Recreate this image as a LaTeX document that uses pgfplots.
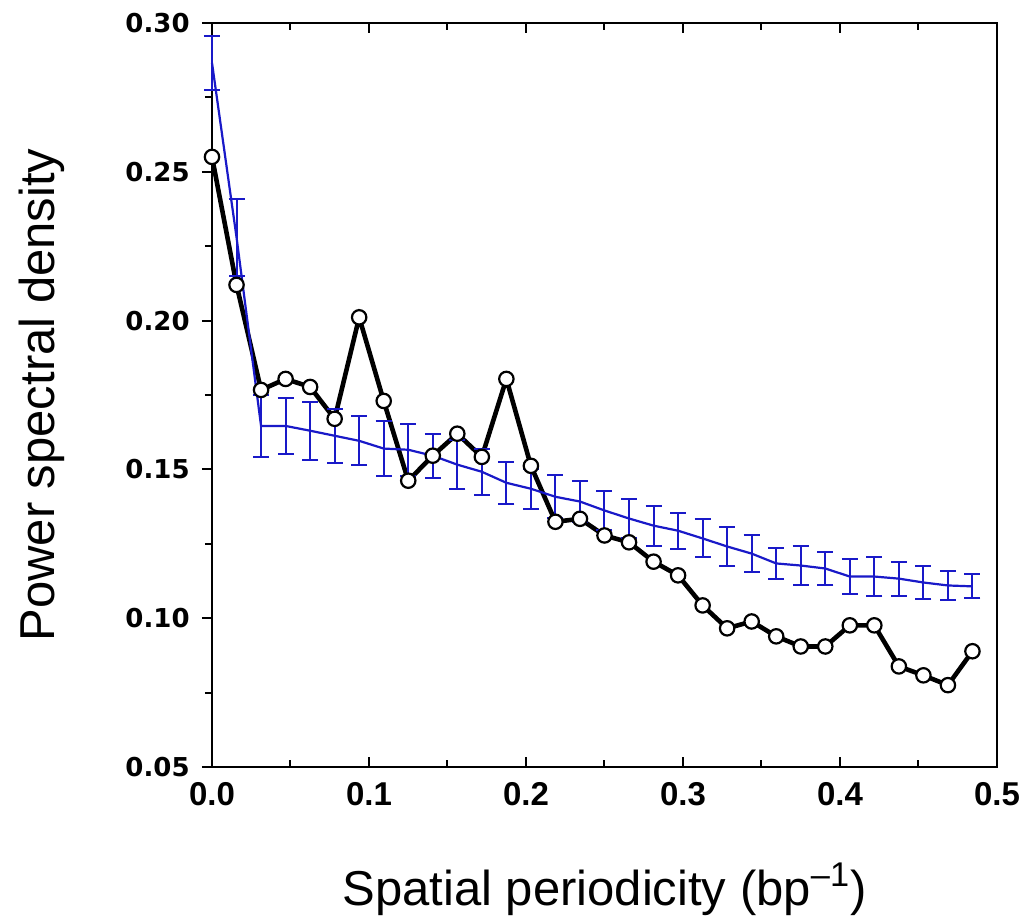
\documentclass[border=0pt]{standalone}
\usepackage{pgfplots}
\pgfplotsset{compat=1.18}
\usepackage{pgfplotstable}
\usepackage{fontspec}
\setmainfont{Liberation Sans}
\newfontfamily\yfont{DejaVu Sans}
\newfontfamily\xfont{Liberation Sans}
\definecolor{errblue}{RGB}{25,25,200}

\pgfplotstableread{
x y
0.000000 0.2550
0.015625 0.2120
0.031250 0.1767
0.046875 0.1804
0.062500 0.1777
0.078125 0.1670
0.093750 0.2011
0.109375 0.1730
0.125000 0.1462
0.140625 0.1546
0.156250 0.1620
0.171875 0.1542
0.187500 0.1804
0.203125 0.1512
0.218750 0.1324
0.234375 0.1334
0.250000 0.1278
0.265625 0.1255
0.281250 0.1190
0.296875 0.1144
0.312500 0.1043
0.328125 0.0966
0.343750 0.0989
0.359375 0.0939
0.375000 0.0905
0.390625 0.0905
0.406250 0.0976
0.421875 0.0976
0.437500 0.0838
0.453125 0.0808
0.468750 0.0775
0.484375 0.0889
}\blackdata

\pgfplotstableread{
x y err
0.000000 0.2866 0.0090
0.015625 0.2280 0.0130
0.031250 0.1646 0.0103
0.046875 0.1646 0.0094
0.062500 0.1630 0.0097
0.078125 0.1613 0.0090
0.093750 0.1596 0.0082
0.109375 0.1570 0.0093
0.125000 0.1566 0.0087
0.140625 0.1546 0.0074
0.156250 0.1516 0.0082
0.171875 0.1492 0.0077
0.187500 0.1455 0.0070
0.203125 0.1435 0.0067
0.218750 0.1408 0.0072
0.234375 0.1392 0.0069
0.250000 0.1362 0.0067
0.265625 0.1335 0.0065
0.281250 0.1311 0.0067
0.296875 0.1294 0.0061
0.312500 0.1268 0.0064
0.328125 0.1241 0.0064
0.343750 0.1217 0.0063
0.359375 0.1184 0.0052
0.375000 0.1177 0.0065
0.390625 0.1167 0.0054
0.406250 0.1140 0.0059
0.421875 0.1140 0.0064
0.437500 0.1133 0.0057
0.453125 0.1120 0.0055
0.468750 0.1110 0.0050
0.484375 0.1107 0.0040
}\bluedata

\begin{document}
\begin{tikzpicture}
\begin{axis}[
  name=ax,
  at={(0,0)}, anchor=south west,
  scale only axis,
  width=392.5pt, height=372pt,
  xmin=0, xmax=0.5, ymin=0.05, ymax=0.30,
  clip=false,
  axis line style={line width=1.2pt},
  xtick={0,0.1,0.2,0.3,0.4,0.5},
  xticklabels={0.0,0.1,0.2,0.3,0.4,0.5},
  minor x tick num=1,
  ytick={0.05,0.10,0.15,0.20,0.25,0.30},
  yticklabels={0.05,0.10,0.15,0.20,0.25,0.30},
  minor y tick num=1,
  xtick pos=both, ytick pos=left,
  tick align=inside,
  major tick length=5pt,
  minor tick length=3.5pt,
  every tick/.style={black, line width=1pt},
  major y tick style={xshift=-5pt},
  minor y tick style={xshift=-3.5pt},
  yticklabel style={font=\yfont\bfseries\fontsize{13}{15}\selectfont, anchor=east, inner sep=0pt, xshift=-11pt},
  xticklabel style={font=\xfont\bfseries\fontsize{16.5}{19}\selectfont, anchor=north, inner sep=0pt, yshift=-7.5pt},
  xlabel={Spatial periodicity (bp\textsuperscript{\textendash1})},
  ylabel={Power spectral density},
  xlabel style={font=\fontsize{24.5}{29}\selectfont, at={(axis description cs:0.5,-0.1855)}, anchor=base},
  ylabel style={font=\fontsize{24.5}{29}\selectfont, at={(axis description cs:-0.2,0.5)}, anchor=base},
]
\addplot[black, line width=2.3pt, mark=*, mark size=3.6pt,
  mark options={fill=white, draw=black, line width=1.1pt}] table[x=x,y=y] {\blackdata};
\addplot[errblue, line width=1.1pt, mark=none,
  error bars/.cd, y dir=both, y explicit,
  error mark=|,
  error bar style={line width=1pt, errblue},
  error mark options={errblue, mark size=4pt, line width=1pt}]
  table[x=x, y=y, y error=err] {\bluedata};
\end{axis}
\pgfresetboundingbox
\path[use as bounding box] (-106pt,-77pt) rectangle (404.5pt,383.5pt);
\end{tikzpicture}
\end{document}
